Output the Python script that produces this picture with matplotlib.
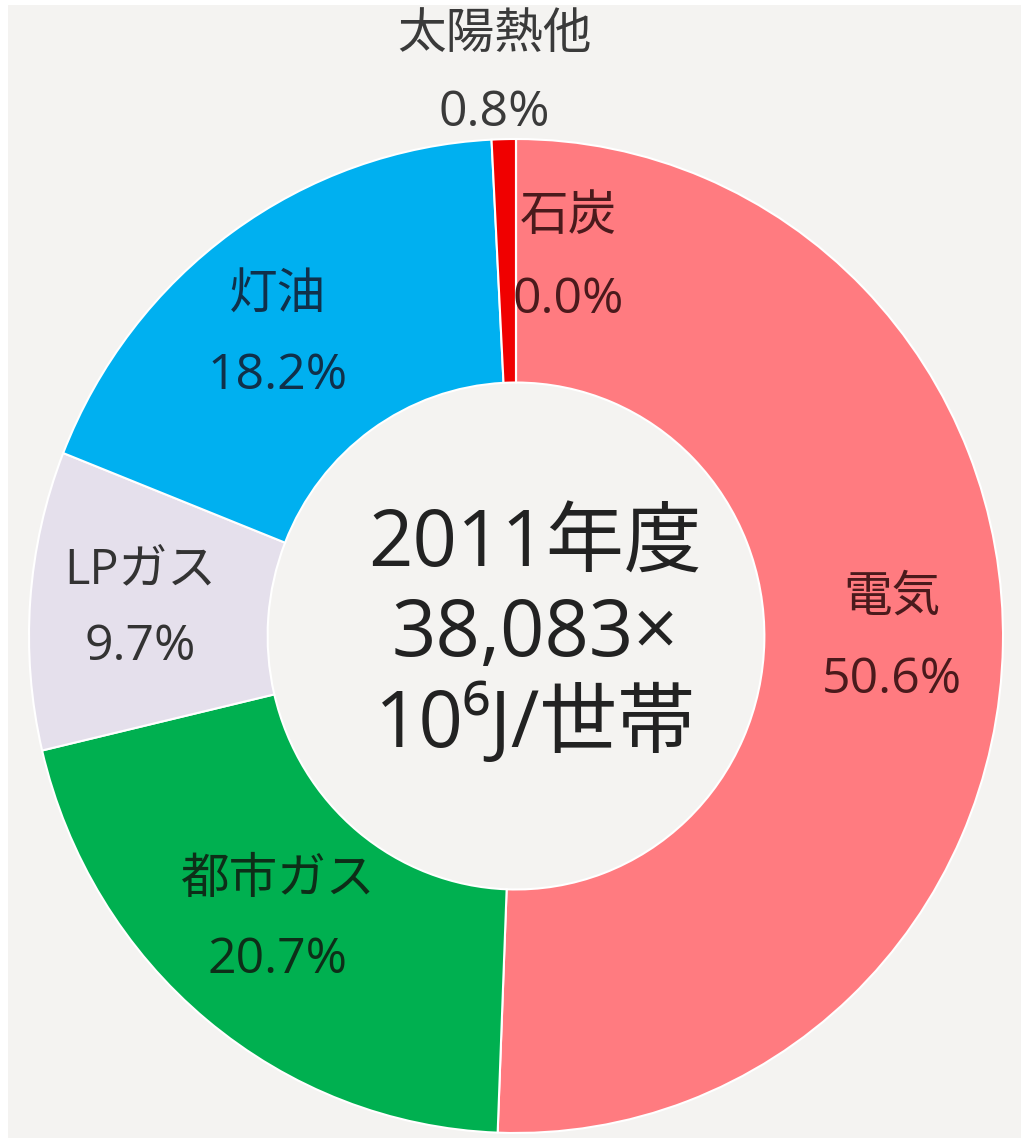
import matplotlib
matplotlib.use("Agg")
import matplotlib.pyplot as plt
from matplotlib.patches import Rectangle

plt.rcParams['font.family'] = ['Open Sans', 'Noto Sans CJK JP', 'DejaVu Sans']

# ---- data ----
categories = ['電気', '都市ガス', 'LPガス', '灯油', '太陽熱他', '石炭']
values = [50.6, 20.7, 9.7, 18.2, 0.8, 0.0]
colors = ['#FF7B80', '#00B050', '#E5E0EC', '#00B0F0', '#F00000', '#404040']
center_lines = ['2011年度', '38,083×', '10⁶J/世帯']

# label positions (data coords: x, y of name, y of percentage)
label_pos = {
    '電気': (0.772, 0.076, -0.089),
    '都市ガス': (-0.489, -0.491, -0.652),
    'LPガス': (-0.772, 0.129, -0.022),
    '灯油': (-0.49, 0.684, 0.523),
    '太陽熱他': (-0.045, 1.209, 1.052),
    '石炭': (0.107, 0.843, 0.676),
}
label_col = {
    '電気': '#4a1a1c', '都市ガス': '#0d2e18', 'LPガス': '#333333',
    '灯油': '#10304a', '太陽熱他': '#3a3a3a', '石炭': '#4a1a1c',
}

W, H = 1021, 1147
fig = plt.figure(figsize=(W / 100, H / 100), dpi=100, facecolor='white')

# background panel
bg = fig.add_axes([0, 0, 1, 1])
bg.set_axis_off()
bg.add_patch(Rectangle((8 / W, 9 / H), (1021 - 8) / W, (1142 - 9) / H,
                       transform=bg.transAxes, facecolor='#F4F3F1', edgecolor='none'))

cx, cy, rx, ry = 516, 636, 487, 497
ax = fig.add_axes([(cx - rx) / W, (H - cy - ry) / H, 2 * rx / W, 2 * ry / H])
ax.set_axis_off()
ax.pie(values, colors=colors, startangle=90, counterclock=False, radius=1.0,
       wedgeprops=dict(width=0.49, edgecolor='white', linewidth=1.5))
ax.set_aspect('auto')
ax.set_xlim(-1, 1)
ax.set_ylim(-1, 1)

for cat, v in zip(categories, values):
    x, y1, y2 = label_pos[cat]
    c = label_col[cat]
    ax.text(x, y1, cat, ha='center', va='center', fontsize=35, color=c, clip_on=False)
    ax.text(x, y2, f'{v:.1f}%', ha='center', va='center', fontsize=36, color=c, clip_on=False)

for i, line in enumerate(center_lines):
    ax.text(0.039, 0.18 - i * 0.18, line, ha='center', va='center', fontsize=56,
            color='#222222')

fig.savefig('out.png', dpi=100, facecolor='white')
